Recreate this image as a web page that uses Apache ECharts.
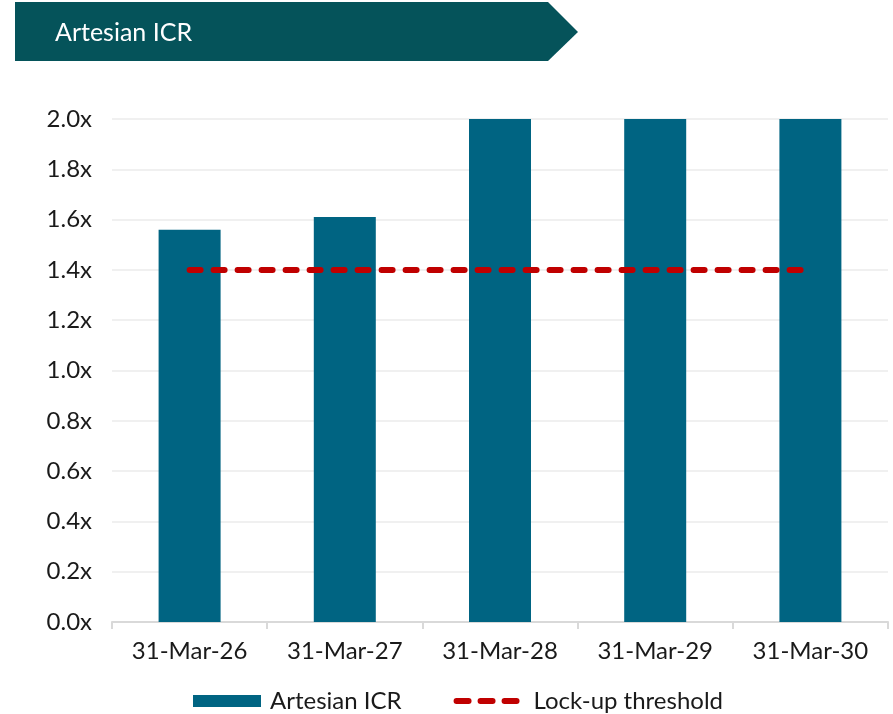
<!DOCTYPE html>
<html>
<head>
<meta charset="utf-8">
<script src="https://cdn.jsdelivr.net/npm/echarts@6/dist/echarts.min.js"></script>
<style>
  html, body { margin: 0; padding: 0; background: #fff; }
  #chart { width: 893px; height: 714px; }
</style>
</head>
<body>
<div id="chart"></div>
<script>
const categories = ['31-Mar-26', '31-Mar-27', '31-Mar-28', '31-Mar-29', '31-Mar-30'];
const icrValues = [1.56, 1.61, 2.0, 2.0, 2.0];
const thresholdValues = [1.4, 1.4, 1.4, 1.4, 1.4];
const chartTitle = 'Artesian ICR';

const fontFamily = 'Lato';
const chart = echarts.init(document.getElementById('chart'));

const option = {
  animation: false,
  textStyle: { fontFamily: fontFamily },
  graphic: [
    {
      type: 'polygon',
      shape: { points: [[15, 2], [548, 2], [578, 32], [548, 61], [15, 61]] },
      style: { fill: '#05535a' }
    },
    {
      type: 'text',
      left: 55,
      top: 20,
      style: { text: chartTitle, fill: '#fff', fontSize: 25, fontFamily: fontFamily }
    }
  ],
  grid: { left: 112, right: 5, top: 119, bottom: 92 },
  legend: {
    top: 684,
    left: 188,
    itemWidth: 68,
    itemHeight: 12,
    itemGap: 52,
    textStyle: { fontSize: 24, color: '#1a1a1a', fontFamily: fontFamily, padding: [0, 0, 0, 4] },
    data: [
      { name: 'Artesian ICR', icon: 'rect' },
      {
        name: 'Lock-up threshold',
        itemStyle: { opacity: 0 },
        lineStyle: { color: '#c00000', width: 6, type: [12, 12], cap: 'round' }
      }
    ]
  },
  xAxis: {
    type: 'category',
    data: categories,
    axisLine: { lineStyle: { color: '#d9d9d9', width: 2 } },
    axisTick: { show: true, length: 7, lineStyle: { color: '#d9d9d9', width: 2 } },
    axisLabel: { color: '#1a1a1a', fontSize: 24, margin: 17 }
  },
  yAxis: {
    type: 'value',
    min: 0,
    max: 2,
    interval: 0.2,
    axisLine: { show: false },
    axisTick: { show: false },
    axisLabel: {
      color: '#1a1a1a',
      fontSize: 24,
      margin: 20,
      formatter: v => v.toFixed(1) + 'x'
    },
    splitLine: { lineStyle: { color: '#f0f0f0', width: 2 } }
  },
  series: [
    {
      name: 'Artesian ICR',
      type: 'bar',
      data: icrValues,
      barWidth: 62,
      itemStyle: { color: '#006482' }
    },
    {
      name: 'Lock-up threshold',
      type: 'line',
      data: thresholdValues,
      symbol: 'none',
      lineStyle: { color: '#c00000', width: 6, type: [11, 13], cap: 'round' },
      itemStyle: { color: '#c00000' }
    }
  ]
};

chart.setOption(option);
</script>
</body>
</html>
